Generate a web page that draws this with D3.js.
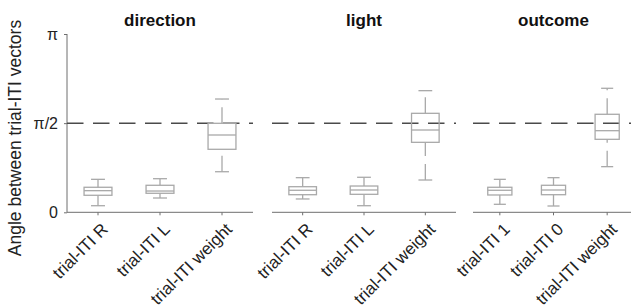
<!DOCTYPE html>
<html>
<head>
<meta charset="utf-8">
<script src="https://cdn.jsdelivr.net/npm/d3@7/dist/d3.min.js"></script>
<style>
  html, body { margin: 0; padding: 0; background: #fff; }
  svg { display: block; font-family: "Liberation Sans", Arial, sans-serif; }
</style>
</head>
<body>
<svg id="chart" width="631" height="305"></svg>
<script>
// ---- data (angles in radians) ----
const panelTitles = ["direction", "light", "outcome"];
const categories = [
  ["trial-ITI R", "trial-ITI L", "trial-ITI weight"],
  ["trial-ITI R", "trial-ITI L", "trial-ITI weight"],
  ["trial-ITI 1", "trial-ITI 0", "trial-ITI weight"]
];
const whiskerLow  = [[0.116, 0.252, 0.715], [0.235, 0.116, 0.569], [0.141, 0.111, 0.804]];
const quartile1   = [[0.300, 0.335, 1.110], [0.310, 0.317, 1.233], [0.305, 0.310, 1.286]];
const medians     = [[0.381, 0.375, 1.362], [0.388, 0.393, 1.450], [0.388, 0.393, 1.438]];
const quartile3   = [[0.441, 0.476, 1.568], [0.451, 0.463, 1.744], [0.441, 0.476, 1.727]];
const whiskerHigh = [[0.581, 0.592, 1.996], [0.610, 0.617, 2.143], [0.581, 0.610, 2.185]];
const yTickValues = [0, Math.PI / 2, Math.PI];
const yTickLabels = ["0", "\u03C0/2", "\u03C0"];
const referenceLine = Math.PI / 2;
const yLabel = "Angle between trial-ITI vectors";

// ---- layout ----
const svg = d3.select("#chart");
const y0 = 212.3, y1 = 34;
const panelRanges = [[67, 253], [272, 456], [473, 634]];
const y = d3.scaleLinear().domain([0, Math.PI]).range([y0, y1]);
const axisColor = "#6e6e6e";
const boxColor = "#a9a9a9";

// y label
svg.append("text")
  .attr("transform", `translate(21,138) rotate(-90)`)
  .attr("text-anchor", "middle")
  .attr("font-size", "17.5px")
  .attr("fill", "#222")
  .text(yLabel);

// y axis
const yAxis = d3.axisLeft(y).tickValues(yTickValues)
  .tickFormat((d, i) => yTickLabels[i]).tickSize(3).tickPadding(6);
const gy = svg.append("g").attr("transform", `translate(${panelRanges[0][0]},0)`).call(yAxis);
gy.select(".domain").attr("stroke", axisColor).attr("d", `M0,${y0}V${y1}`);
gy.selectAll(".tick line").attr("stroke", axisColor);
gy.selectAll(".tick text").attr("font-size", "16px").attr("fill", "#222")
  .attr("font-family", "'Liberation Sans', Arial, sans-serif");

panelTitles.forEach((title, p) => {
  const x = d3.scaleBand().domain(categories[p]).range(panelRanges[p]).padding(0);
  const g = svg.append("g");
  const bw = x.bandwidth();
  const boxW = bw * 0.45;
  const capW = boxW * 0.5;

  // title
  g.append("text")
    .attr("x", (panelRanges[p][0] + panelRanges[p][1]) / 2)
    .attr("y", 26)
    .attr("text-anchor", "middle")
    .attr("font-size", "17px")
    .attr("font-weight", "bold")
    .attr("fill", "#111")
    .text(title);

  // reference dashed line
  g.append("line")
    .attr("x1", panelRanges[p][0]).attr("x2", panelRanges[p][1])
    .attr("y1", y(referenceLine)).attr("y2", y(referenceLine))
    .attr("stroke", "#4a4a4a").attr("stroke-width", 1.5)
    .attr("stroke-dasharray", "16.5,9.5");

  // x axis
  const xAxis = d3.axisBottom(x).tickSize(3).tickPadding(4);
  const gx = g.append("g").attr("transform", `translate(0,${y0})`).call(xAxis);
  gx.select(".domain").attr("stroke", axisColor).attr("d", `M${panelRanges[p][0]},0H${panelRanges[p][1]}`);
  gx.selectAll(".tick line").attr("stroke", axisColor);
  gx.selectAll(".tick text")
    .attr("font-size", "17px")
    .attr("fill", "#222")
    .attr("font-family", "'Liberation Sans', Arial, sans-serif")
    .attr("text-anchor", "end")
    .attr("dy", null)
    .attr("y", null)
    .attr("transform", "translate(11,18) rotate(-45)");

  // boxes
  categories[p].forEach((c, i) => {
    const cx = x(c) + bw / 2;
    const bg = g.append("g").attr("fill", "none").attr("stroke", boxColor).attr("stroke-width", 1.3);
    // upper whisker: from box top upward
    bg.append("line").attr("x1", cx).attr("x2", cx)
      .attr("y1", y(quartile3[p][i])).attr("y2", y(whiskerHigh[p][i]))
      .attr("stroke-dasharray", "16,8");
    // lower whisker: from cap upward to box bottom
    bg.append("line").attr("x1", cx).attr("x2", cx)
      .attr("y1", y(whiskerLow[p][i])).attr("y2", y(quartile1[p][i]))
      .attr("stroke-dasharray", "16,8");
    // caps
    [whiskerHigh[p][i], whiskerLow[p][i]].forEach(v => {
      bg.append("line").attr("x1", cx - capW / 2).attr("x2", cx + capW / 2)
        .attr("y1", y(v)).attr("y2", y(v));
    });
    // box
    bg.append("rect")
      .attr("x", cx - boxW / 2).attr("width", boxW)
      .attr("y", y(quartile3[p][i]))
      .attr("height", y(quartile1[p][i]) - y(quartile3[p][i]));
    // median
    bg.append("line").attr("x1", cx - boxW / 2).attr("x2", cx + boxW / 2)
      .attr("y1", y(medians[p][i])).attr("y2", y(medians[p][i]));
  });
});
</script>
</body>
</html>
